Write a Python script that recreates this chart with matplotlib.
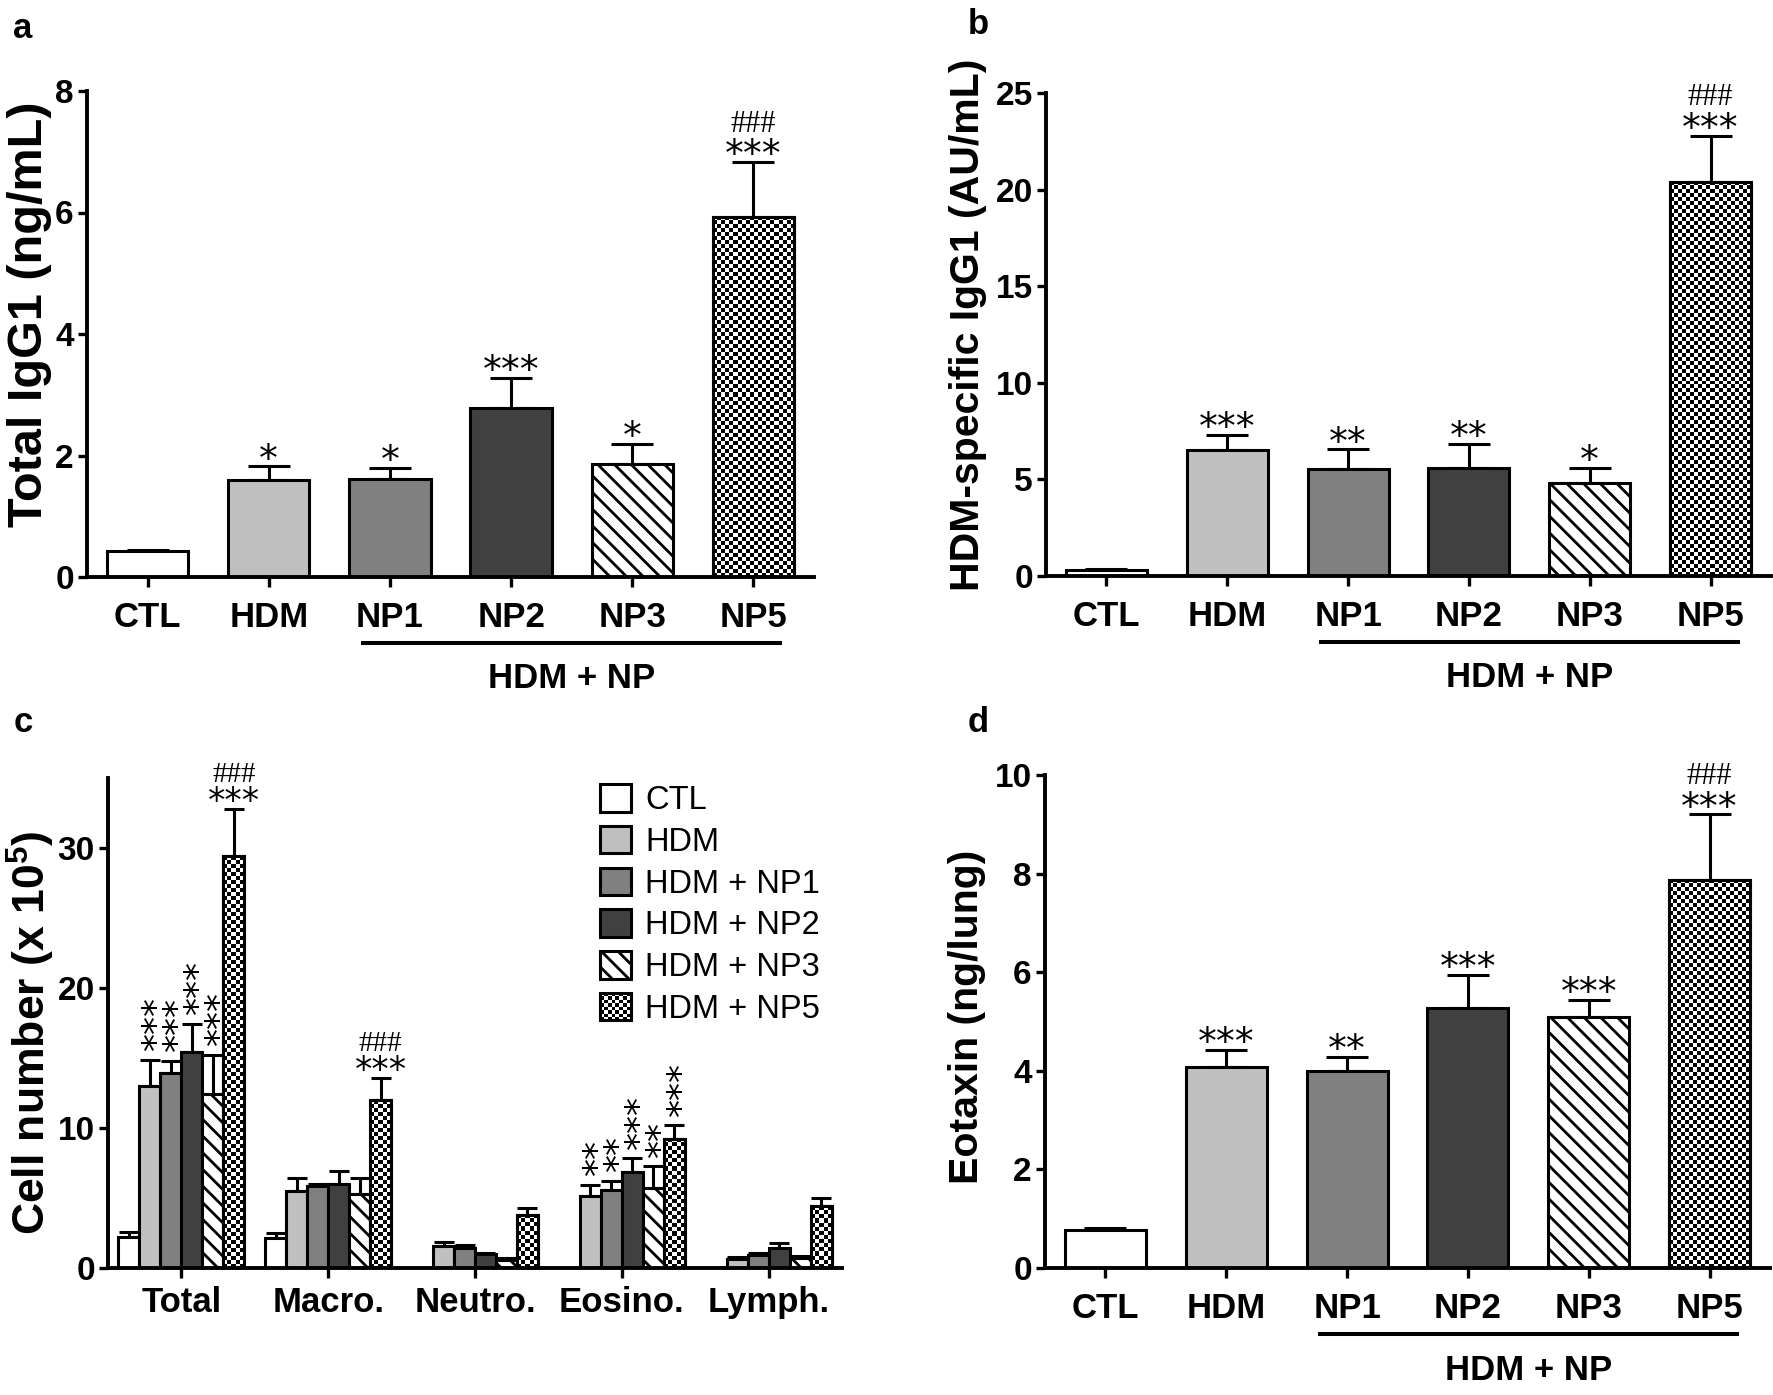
import numpy as np
import matplotlib
matplotlib.use("Agg")
import matplotlib.pyplot as plt
import matplotlib.transforms as mtransforms
from matplotlib.patches import Rectangle, Patch
from matplotlib.legend_handler import HandlerBase

plt.rcParams['font.family'] = ['Liberation Sans', 'DejaVu Sans']
plt.rcParams['mathtext.fontset'] = 'custom'
plt.rcParams['mathtext.rm'] = 'Liberation Sans:bold'
plt.rcParams['mathtext.bf'] = 'Liberation Sans:bold'
plt.rcParams['hatch.linewidth'] = 2.0

# ---------------- data ----------------
groups = ['CTL', 'HDM', 'NP1', 'NP2', 'NP3', 'NP5']

a_vals = [0.42, 1.60, 1.62, 2.78, 1.86, 5.93]
a_err = [0.03, 0.22, 0.18, 0.50, 0.33, 0.90]
a_sig = ['', '*', '*', '***', '*', '***']
a_hash = ['', '', '', '', '', '###']

b_vals = [0.30, 6.50, 5.55, 5.60, 4.80, 20.40]
b_err = [0.05, 0.80, 1.00, 1.25, 0.80, 2.40]
b_sig = ['', '***', '**', '**', '*', '***']
b_hash = ['', '', '', '', '', '###']

d_vals = [0.78, 4.08, 4.00, 5.27, 5.10, 7.88]
d_err = [0.04, 0.35, 0.28, 0.68, 0.33, 1.32]
d_sig = ['', '***', '**', '***', '***', '***']
d_hash = ['', '', '', '', '', '###']

c_cells = ['Total', 'Macro.', 'Neutro.', 'Eosino.', 'Lymph.']
c_series = ['CTL', 'HDM', 'HDM + NP1', 'HDM + NP2', 'HDM + NP3', 'HDM + NP5']
c_CTL = [2.20, 2.14, 0.00, 0.00, 0.00]
c_CTL_err = [0.35, 0.36, 0.00, 0.00, 0.00]
c_HDM = [12.98, 5.52, 1.55, 5.12, 0.67]
c_HDM_err = [1.90, 0.90, 0.30, 0.83, 0.15]
c_NP1 = [13.90, 5.83, 1.40, 5.60, 0.90]
c_NP1_err = [0.90, 0.20, 0.27, 0.60, 0.17]
c_NP2 = [15.40, 6.02, 0.98, 6.83, 1.43]
c_NP2_err = [2.05, 0.88, 0.10, 1.00, 0.36]
c_NP3 = [12.43, 5.30, 0.60, 5.71, 0.71]
c_NP3_err = [2.80, 1.10, 0.10, 1.55, 0.12]
c_NP5 = [29.40, 11.98, 3.80, 9.24, 4.40]
c_NP5_err = [3.40, 1.60, 0.50, 0.95, 0.60]
c_vals = [c_CTL, c_HDM, c_NP1, c_NP2, c_NP3, c_NP5]
c_errs = [c_CTL_err, c_HDM_err, c_NP1_err, c_NP2_err, c_NP3_err, c_NP5_err]
# significance per cell group (rows) and series (columns)
c_sig = [['', '***', '***', '***', '***', '***'],
         ['', '', '', '', '', '***'],
         ['', '', '', '', '', ''],
         ['', '**', '**', '***', '**', '***'],
         ['', '', '', '', '', '']]
c_hash = [['', '', '', '', '', '###'],
          ['', '', '', '', '', '###'],
          ['', '', '', '', '', ''],
          ['', '', '', '', '', ''],
          ['', '', '', '', '', '']]

# ---------------- styles ----------------
face = ['white', '#c0c0c0', '#808080', '#404040', 'white', 'white']
hatch = [None, None, None, None, '\\\\', 'checker']
EDGE_LW = 2.2
SPINE_LW = 2.8

W, H = 1773, 1395
fig = plt.figure(figsize=(W / 100, H / 100), dpi=100)


def px_axes(left, top, right, bottom):
    return fig.add_axes([left / W, 1 - bottom / H, (right - left) / W, (bottom - top) / H])


def add_checker(ax, bar, cell_px=4.0):
    x0, y0 = bar.get_x(), bar.get_y()
    w, h = bar.get_width(), bar.get_height()
    if h <= 0:
        return
    p0 = ax.transData.transform((x0, y0))
    p1 = ax.transData.transform((x0 + w, y0 + h))
    nx = max(1, int(round(abs(p1[0] - p0[0]) / cell_px)))
    ny = max(1, int(round(abs(p1[1] - p0[1]) / cell_px)))
    arr = np.add.outer(np.arange(ny), np.arange(nx)) % 2
    im = ax.imshow(arr, extent=(x0, x0 + w, y0, y0 + h), origin='lower', cmap='gray',
                   vmin=0, vmax=1, interpolation='nearest', aspect='auto',
                   zorder=bar.get_zorder() + 0.1)
    im.set_clip_path(bar)
    ax.add_patch(Rectangle((x0, y0), w, h, fill=False, ec='black', lw=EDGE_LW,
                           zorder=bar.get_zorder() + 0.2))


def style_axes(ax):
    for s in ['top', 'right']:
        ax.spines[s].set_visible(False)
    for s in ['left', 'bottom']:
        ax.spines[s].set_linewidth(SPINE_LW)
    ax.tick_params(direction='out', width=2.4, length=6.5)
    ax.tick_params(axis='y', labelsize=24, pad=3)


def draw_bars(ax, x, vals, errs, width, series_idx, capsize):
    bars = []
    for xi, v, e, k in zip(x, vals, errs, series_idx):
        h = hatch[k] if hatch[k] not in (None, 'checker') else None
        b = ax.bar(xi, v, width=width, color=face[k], edgecolor='black',
                   linewidth=EDGE_LW, hatch=h, zorder=2)[0]
        bars.append((b, k))
        if e > 0:
            ax.errorbar(xi, v, yerr=[[0], [e]], fmt='none', ecolor='black',
                        elinewidth=2.2, capsize=capsize, capthick=2.2, zorder=1.5)
    return bars


def star(ax, x, y, text, size, dy_pt, vertical=False, dx_pt=0.0):
    if not text:
        return
    if vertical:
        ax.annotate(text, xy=(x, y), xytext=(dx_pt, dy_pt), textcoords='offset points',
                    ha='center', va='bottom', rotation=90, fontsize=size,
                    family='DejaVu Sans', annotation_clip=False)
    else:
        ax.annotate(text, xy=(x, y), xytext=(0, dy_pt), textcoords='offset points',
                    ha='center', va='baseline', fontsize=size,
                    family='DejaVu Sans', annotation_clip=False)


def hashes(ax, x, y, text, size, dy_pt):
    if not text:
        return
    ax.annotate(text, xy=(x, y), xytext=(0, dy_pt), textcoords='offset points',
                ha='center', va='baseline', fontsize=size,
                family='Liberation Serif', annotation_clip=False)


def simple_panel(ax, vals, errs, sig, hsh, ymax, yticks, ylabel, ylab_x, ylab_y, ylab_size):
    x = np.arange(len(groups))
    ax.set_xlim(-0.5, len(groups) - 0.5)
    ax.set_ylim(0, ymax)
    bars = draw_bars(ax, x, vals, errs, 0.67, range(len(groups)), 15)
    for b, k in bars:
        if hatch[k] == 'checker':
            add_checker(ax, b)
    ax.set_xlim(-0.5, len(groups) - 0.5)
    ax.set_ylim(0, ymax)
    style_axes(ax)
    ax.set_yticks(yticks)
    ax.set_xticks(x)
    ax.set_xticklabels(groups, fontsize=25, fontweight='bold')
    ax.tick_params(axis='x', pad=10, length=7)
    for lab in ax.get_yticklabels():
        lab.set_fontweight('bold')
    ax.set_ylabel(ylabel, fontsize=ylab_size, fontweight='bold', va='center')
    ax.yaxis.set_label_coords(ylab_x, ylab_y)
    for xi, v, e, s, hh in zip(x, vals, errs, sig, hsh):
        star(ax, xi, v + e, s, 27, -3)
        hashes(ax, xi, v + e, hh, 22, 22)
    # HDM + NP bracket
    ah = ax.get_window_extent().height
    tr = mtransforms.blended_transform_factory(ax.transData, ax.transAxes)
    ax.plot([2 - 0.24, 5 + 0.24], [-66 / ah, -66 / ah], transform=tr, clip_on=False,
            color='black', lw=2.9, solid_capstyle='butt')
    ax.text(3.5, -102 / ah, 'HDM + NP', transform=tr, ha='center', va='center',
            fontsize=25, fontweight='bold')


# panel a
ax_a = px_axes(87, 91, 814, 577)
simple_panel(ax_a, a_vals, a_err, a_sig, a_hash, 8, [0, 2, 4, 6, 8],
             'Total IgG1 (ng/mL)', -57 / 727, 0.54, 35)

# panel b
ax_b = px_axes(1046, 93, 1771, 576)
simple_panel(ax_b, b_vals, b_err, b_sig, b_hash, 25, [0, 5, 10, 15, 20, 25],
             'HDM-specific IgG1 (AU/mL)', -78 / 725, 0.52, 29.5)

# panel d
ax_d = px_axes(1045, 775, 1770, 1268)
simple_panel(ax_d, d_vals, d_err, d_sig, d_hash, 10, [0, 2, 4, 6, 8, 10],
             'Eotaxin (ng/lung)', -78 / 725, 0.51, 29.5)

# panel c
ax_c = px_axes(108, 778, 842, 1268)
ax_c.set_xlim(-0.5, len(c_cells) - 0.5)
ax_c.set_ylim(0, 35)
bw = 0.143
gx = np.arange(len(c_cells))
for k in range(len(c_series)):
    xs = gx + (k - 2.5) * bw
    bars = draw_bars(ax_c, xs, c_vals[k], c_errs[k], bw, [k] * len(c_cells), 7.5)
    for b, kk in bars:
        if hatch[kk] == 'checker':
            add_checker(ax_c, b)
    for g in range(len(c_cells)):
        top = c_vals[k][g] + c_errs[k][g]
        s = c_sig[g][k]
        hh = c_hash[g][k]
        if hh:
            star(ax_c, xs[g], top, s, 25, -2)
            hashes(ax_c, xs[g], top, hh, 21, 19)
        else:
            star(ax_c, xs[g], top, s, 26, 7, vertical=True, dx_pt=5.3)
ax_c.set_xlim(-0.5, len(c_cells) - 0.5)
ax_c.set_ylim(0, 35)
style_axes(ax_c)
ax_c.set_yticks([0, 10, 20, 30])
for lab in ax_c.get_yticklabels():
    lab.set_fontweight('bold')
ax_c.set_xticks(gx)
ax_c.set_xticklabels(c_cells, fontsize=25, fontweight='bold')
ax_c.tick_params(axis='x', pad=6, length=7)
ax_c.set_ylabel(r'Cell number (x 10$^{\mathbf{5}}$)', fontsize=32, fontweight='bold', va='center')
ax_c.yaxis.set_label_coords(-77 / 734, 0.48)


# legend with checker handler
class CheckerHandler(HandlerBase):
    def create_artists(self, legend, orig_handle, xdescent, ydescent, width, height,
                       fontsize, trans):
        arts = [Rectangle((-xdescent, -ydescent), width, height, facecolor='white',
                          edgecolor='none', transform=trans)]
        n = 8
        cw, ch = width / n, height / n
        for i in range(n):
            for j in range(n):
                if (i + j) % 2 == 0:
                    arts.append(Rectangle((-xdescent + i * cw, -ydescent + j * ch), cw, ch,
                                          facecolor='black', edgecolor='none', transform=trans))
        arts.append(Rectangle((-xdescent, -ydescent), width, height, facecolor='none',
                              edgecolor='black', lw=2.2, transform=trans))
        return arts


handles = []
hmap = {}
for k, lab in enumerate(c_series):
    hh = hatch[k] if hatch[k] not in (None, 'checker') else None
    p = Patch(facecolor=face[k], edgecolor='black', lw=2.2, hatch=hh, label=lab)
    handles.append(p)
    if hatch[k] == 'checker':
        hmap[p] = CheckerHandler()
ax_c.legend(handles=handles, handler_map=hmap, loc='upper left',
            bbox_to_anchor=(600 / W, 1 - 784 / H), bbox_transform=fig.transFigure,
            frameon=False, fontsize=23.5, handlelength=0.94, handleheight=0.92,
            labelspacing=0.3, handletextpad=0.45, borderpad=0, borderaxespad=0)

# panel letters
for letter, (px, py) in zip(['a', 'b', 'c', 'd'],
                            [(23, 28), (978, 25), (23, 722), (978, 722)]):
    fig.text(px / W, 1 - py / H, letter, fontsize=25, fontweight='bold',
             ha='center', va='center')

fig.savefig('out.png', dpi=100)
